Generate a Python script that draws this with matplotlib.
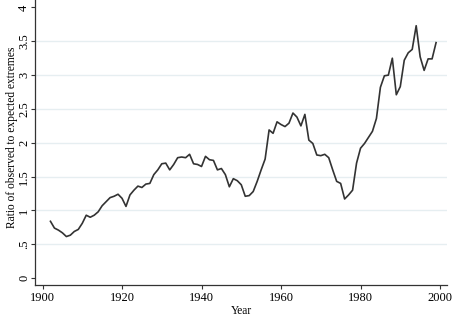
import numpy as np
import matplotlib
matplotlib.use('Agg')
from matplotlib import pyplot as plt

# yearly ratio of observed to expected extremes
years = list(range(1902, 2000))
ratio = [0.84, 0.74, 0.71, 0.67, 0.615, 0.635, 0.69, 0.72, 0.81, 0.93,
         0.90, 0.93, 0.98, 1.07, 1.13, 1.19, 1.21, 1.24, 1.18, 1.06,
         1.23, 1.30, 1.36, 1.34, 1.39, 1.40, 1.53, 1.60, 1.69, 1.70,
         1.60, 1.68, 1.78, 1.79, 1.78, 1.83, 1.69, 1.68, 1.65, 1.80,
         1.75, 1.74, 1.60, 1.62, 1.53, 1.35, 1.47, 1.44, 1.38, 1.21,
         1.22, 1.28, 1.43, 1.60, 1.76, 2.19, 2.14, 2.31, 2.27, 2.24,
         2.29, 2.44, 2.38, 2.25, 2.42, 2.04, 1.99, 1.82, 1.81, 1.83,
         1.78, 1.60, 1.43, 1.40, 1.17, 1.23, 1.30, 1.70, 1.92,
         1.99, 2.08, 2.17, 2.36, 2.82, 2.99, 3.00, 3.25, 2.71, 2.83,
         3.22, 3.33, 3.38, 3.73, 3.27, 3.07, 3.24, 3.24, 3.48]

xticks = [1900, 1920, 1940, 1960, 1980, 2000]
yticks = [0, 0.5, 1, 1.5, 2, 2.5, 3, 3.5, 4]
ytick_labels = ['0', '.5', '1', '1.5', '2', '2.5', '3', '3.5', '4']

plt.rcParams['font.family'] = ['Liberation Serif', 'DejaVu Serif']

fig = plt.figure(figsize=(4.54, 3.18), dpi=100)
ax = fig.add_axes([0.077, 0.104, 0.908, 0.896])

# light horizontal grid, none at the ends
for y in yticks[1:-1]:
    ax.axhline(y, color='#e6eef1', linewidth=1.0, zorder=0)

ax.plot(years, ratio, color='#333333', linewidth=1.2)

ax.set_xlim(1898.1, 2001.8)
ax.set_ylim(-0.1, 4.11)
ax.set_xticks(xticks)
ax.set_yticks(yticks)
ax.set_yticklabels(ytick_labels, rotation=90, va='center')
ax.tick_params(axis='both', labelsize=9, length=3, width=0.8,
               color='#333333')
ax.tick_params(axis='y', pad=0.5)
ax.tick_params(axis='x', pad=2)
ax.set_xlabel('Year', fontsize=8.3, labelpad=1)
ax.set_ylabel('Ratio of observed to expected extremes', fontsize=8.3)
ax.yaxis.set_label_coords(-0.042, 0.519)

for s in ['top', 'right']:
    ax.spines[s].set_visible(False)
for s in ['left', 'bottom']:
    ax.spines[s].set_color('#333333')
    ax.spines[s].set_linewidth(0.9)

plt.savefig('out.png', dpi=100)
